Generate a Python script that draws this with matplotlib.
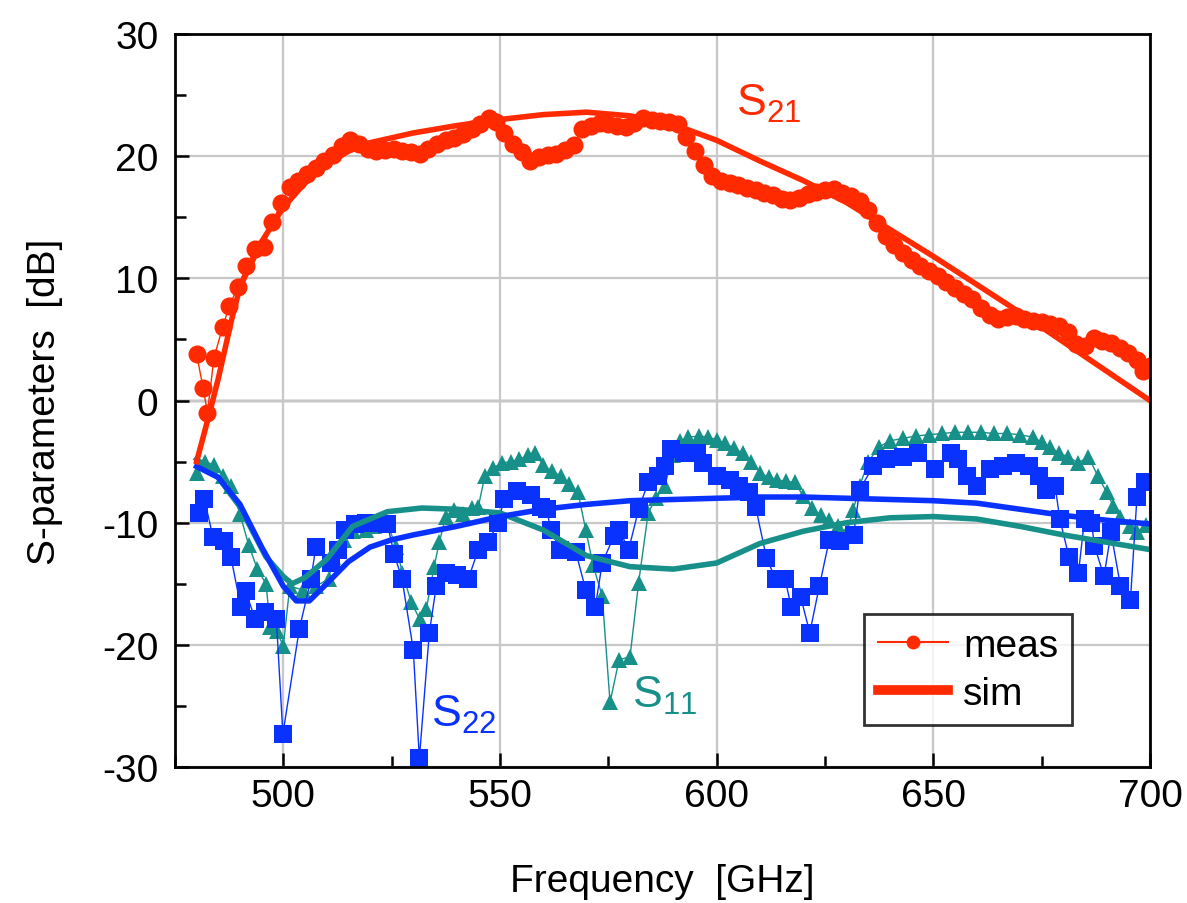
import numpy as np
import matplotlib
matplotlib.use("Agg")
import matplotlib.pyplot as plt
from matplotlib.lines import Line2D

plt.rcParams['font.family'] = ['Liberation Sans', 'DejaVu Sans']
plt.rcParams['mathtext.fontset'] = 'custom'
plt.rcParams['mathtext.rm'] = 'Liberation Sans'
plt.rcParams['mathtext.it'] = 'Liberation Sans'
plt.rcParams['axes.unicode_minus'] = False

RED = '#ff2a00'
BLUE = '#0a32ff'
TEAL = '#17908a'

# S21 measured
s21_meas_f = [480, 481.5, 482.5, 484, 486, 487.5, 489.5, 491.5, 493.5, 495.5, 497.5, 499.5,
              501.5, 503.5, 505.5, 507.5, 509.5, 511.5, 513.5, 515.5, 517.5, 519.5, 521.5,
              523.5, 525.5, 527.5, 529.5, 531.5, 533.5, 535.5, 537.5, 539.5, 541.5, 543.5,
              545.5, 547.5, 549, 551, 553, 555, 557, 559, 561, 563, 565, 567, 569, 571, 573,
              575, 577, 579, 581, 583, 585, 587, 589, 591, 593, 595, 597, 599, 601, 603, 605,
              607, 609, 611, 613, 615, 617, 619, 621, 623, 625, 627, 629, 631, 633, 635, 637,
              639, 641, 643, 645, 647, 649, 651, 653, 655, 657, 659, 661, 663, 665, 667, 669,
              671, 673, 675, 677, 679, 681, 683, 685, 687, 689, 691, 693, 695, 697, 698.5, 700]
s21_meas_db = [3.8, 1.0, -1.0, 3.5, 6.0, 7.7, 9.3, 11.0, 12.4, 12.6, 14.6, 16.2,
               17.5, 18.0, 18.5, 19.0, 19.6, 20.1, 20.8, 21.3, 21.0, 20.6, 20.4,
               20.5, 20.6, 20.4, 20.3, 20.2, 20.6, 21.0, 21.3, 21.5, 21.8, 22.2,
               22.6, 23.1, 22.8, 21.9, 21.0, 20.3, 19.6, 19.9, 20.1, 20.2, 20.5, 20.9, 22.2, 22.5, 22.7,
               22.6, 22.5, 22.4, 22.7, 23.1, 23.0, 22.9, 22.8, 22.6, 21.6, 20.4, 19.3, 18.4, 18.0, 17.8, 17.6,
               17.4, 17.2, 17.0, 16.8, 16.5, 16.4, 16.6, 16.9, 17.1, 17.2, 17.3, 17.0, 16.7, 16.3, 15.6, 14.5,
               13.5, 12.7, 12.1, 11.5, 11.0, 10.6, 10.2, 9.7, 9.2, 8.7, 8.3, 7.6, 7.0, 6.7, 6.8, 6.9,
               6.7, 6.5, 6.4, 6.3, 6.1, 5.6, 4.6, 4.5, 5.1, 4.9, 4.7, 4.3, 3.9, 3.3, 2.4, 2.8]

# S21 simulated
s21_sim_f = [480, 483, 485, 488, 490, 495, 500, 505, 510, 515, 520, 530, 540, 550, 560, 570,
             580, 590, 600, 610, 620, 630, 640, 650, 660, 670, 680, 690, 700]
s21_sim_db = [-5.0, -1.0, 1.8, 6.5, 9.3, 13.0, 15.8, 17.8, 19.3, 20.4, 21.1, 21.9, 22.5, 23.0,
              23.4, 23.6, 23.3, 22.6, 21.3, 19.6, 18.0, 16.2, 14.0, 11.8, 9.5, 7.2, 4.8, 2.4, 0.0]

# S11 measured
s11_meas_f = [480, 482, 484, 486, 488, 490, 492, 494, 496, 497, 498.5, 500, 501.5, 504.5, 507.5,
              510.5, 511.5, 514, 516, 519, 521, 524, 526, 527.5, 529.5, 531.5, 533, 534.8, 536,
              537.5, 539.5, 541.5, 543.5, 545, 546.5, 548.5, 550.5, 552.5, 554.5, 556.5, 558,
              560, 562, 564, 566, 568, 569.8, 571.5, 573.6, 575.4, 577.5, 580, 582, 584.2, 586,
              588, 590, 591.5, 593.5, 596, 598, 600, 602, 604, 606, 608, 610, 612, 614, 616, 618,
              620, 622, 624, 626, 628, 630, 631.5, 633, 635, 637.5, 640, 643, 646, 649, 652, 655,
              658, 661, 664, 667, 670, 673, 675, 677, 679, 681, 683.5, 685.8, 688, 690, 691.5,
              693.2, 695.5, 697, 699]
s11_meas_db = [-5.9, -5.0, -5.3, -6.2, -7.0, -9.3, -11.8, -13.8, -15.0, -18.5, -18.9, -20.1, -15.2, -15.5, -15.2,
               -14.6, -12.8, -11.4, -10.7, -10.6, -10.3, -10.0, -12.0, -14.1, -16.5, -17.9, -17.1, -13.6, -11.6,
               -9.5, -9.0, -9.3, -8.8, -8.7, -6.2, -5.5, -5.1, -5.0, -4.8, -4.5, -4.3,
               -5.3, -5.8, -6.2, -6.8, -7.5, -10.6, -13.5, -16.0, -24.7, -21.2, -21.0, -14.9, -9.2, -8.0,
               -7.0, -4.5, -3.3, -3.0, -2.9, -3.0, -3.2, -3.5, -3.9, -4.3, -5.0, -5.9, -6.3, -6.5, -6.6, -6.7,
               -7.8, -8.8, -9.4, -9.8, -10.3, -10.8, -9.0, -7.0, -5.0, -3.8, -3.3, -3.1, -2.9, -2.8, -2.7, -2.6,
               -2.6, -2.6, -2.7, -2.7, -2.8, -3.0, -3.4, -3.8, -4.3, -4.6, -5.1, -4.6, -6.2, -7.5, -8.6,
               -9.5, -10.3, -10.8, -10.2]

# S11 simulated
s11_sim_f = [480, 485, 490, 496, 500, 502, 505, 510, 516, 524, 532, 540, 550, 560, 570, 580,
             590, 600, 610, 620, 630, 640, 650, 660, 670, 680, 690, 700]
s11_sim_db = [-4.8, -6.3, -8.7, -12.8, -14.4, -15.0, -14.5, -13.0, -10.3, -9.1, -8.8, -8.9, -9.2,
              -10.6, -12.7, -13.6, -13.8, -13.3, -11.7, -10.7, -10.0, -9.6, -9.5, -9.7, -10.3,
              -11.0, -11.6, -12.2]

# S22 measured
s22_meas_f = [480.5, 481.8, 483.8, 486.3, 487.9, 490.2, 491.3, 493.5, 495.8, 498.4, 499.9, 503.7,
              506.4, 507.5, 511.1, 512.7, 514.3, 516.6, 519, 521, 524, 525.6, 527.4, 530, 531.4,
              533.7, 535.3, 537.5, 540, 542.7, 545, 547.3, 549.5, 551, 554, 557.2, 559.4, 560.8,
              561.7, 563.9, 567.5, 569.8, 572, 573.6, 576.3, 577.5, 579.7, 582, 584.2, 586.5, 588,
              589.4, 592.4, 595.5, 596.9, 600, 603, 605.2, 607.5, 609, 611.5, 613.6, 615.8, 617.2,
              619.4, 621.5, 623.7, 626, 628.5, 631.6, 633, 636.1, 639, 642.9, 646.5, 650.4, 654.2,
              655.6, 657.8, 660, 663.2, 666.2, 669.1, 672.2, 674.5, 675.9, 678.1, 679.2, 681.3,
              683.5, 684.9, 686.5, 687.2, 689.4, 691, 693.2, 695.5, 697, 698.9]
s22_meas_db = [-9.2, -8.1, -11.2, -11.5, -12.8, -16.9, -15.6, -17.9, -17.3, -17.9, -27.3, -18.7,
               -14.6, -12.0, -13.3, -12.2, -10.6, -10.1, -10.0, -10.0, -10.1, -12.6, -14.6, -20.4, -29.3,
               -19.0, -15.2, -14.1, -14.3, -14.6, -12.2, -11.6, -10.0, -8.1, -7.4, -7.7, -8.7, -8.9,
               -10.6, -12.2, -12.4, -15.5, -16.9, -13.3, -11.1, -10.6, -12.2, -8.9, -6.7, -6.2, -5.4,
               -4.0, -4.3, -4.3, -5.1, -6.2, -6.5, -7.0, -7.5, -8.7, -12.9, -14.6, -14.6, -16.9,
               -16.1, -19.0, -15.2, -11.4, -11.5, -11.0, -7.3, -5.4, -4.8, -4.6, -4.3, -5.6, -4.3,
               -4.8, -6.2, -7.0, -5.6, -5.4, -5.1, -5.4, -6.2, -7.3, -7.0, -9.7, -12.8,
               -14.1, -9.7, -10.0, -11.9, -14.4, -10.8, -15.2, -16.3, -7.9, -6.7]

# S22 simulated
s22_sim_f = [480, 485, 490, 495, 500, 503, 506, 510, 515, 520, 525, 530, 540, 550, 560, 570,
             580, 590, 600, 610, 620, 630, 640, 650, 660, 670, 680, 690, 700]
s22_sim_db = [-5.4, -6.3, -8.5, -12.0, -15.2, -16.4, -16.4, -15.0, -13.2, -12.0, -11.4, -11.0,
              -10.3, -9.5, -8.9, -8.5, -8.2, -8.1, -8.0, -7.9, -7.9, -8.0, -8.1, -8.2, -8.4,
              -8.9, -9.4, -9.8, -10.1]


fig = plt.figure(figsize=(11.87, 9.04), dpi=100)
ax = fig.add_axes([0.1474, 0.1504, 0.8214, 0.8109])

ax.set_xlim(480, 700)
ax.set_ylim(-30, 30)
ax.set_xticks([500, 550, 600, 650, 700])
ax.set_xticks(np.arange(475, 701, 25), minor=True)
ax.set_yticks(np.arange(-30, 31, 10))
ax.set_yticks(np.arange(-30, 31, 5), minor=True)
ax.grid(True, which='major', color='#c8c8c8', linewidth=1.6, zorder=0)
ax.axhline(0, color='black', linewidth=1.6, zorder=1)

# measured traces
ax.plot(s11_meas_f, s11_meas_db, color=TEAL, linewidth=1.0, marker='^', markersize=11,
        markeredgewidth=0, zorder=3)
ax.plot(s22_meas_f, s22_meas_db, color=BLUE, linewidth=1.0, marker='s', markersize=13,
        markeredgewidth=0, zorder=4)
ax.plot(s21_meas_f, s21_meas_db, color=RED, linewidth=1.0, marker='o', markersize=13,
        markeredgewidth=0, zorder=4)

# simulated traces
ax.plot(s11_sim_f, s11_sim_db, color=TEAL, linewidth=4, zorder=5)
ax.plot(s22_sim_f, s22_sim_db, color=BLUE, linewidth=4, zorder=5)
ax.plot(s21_sim_f, s21_sim_db, color=RED, linewidth=4, zorder=5)

ax.text(604.5, 23.4, r'$\mathregular{S_{21}}$', color=RED, fontsize=32)
ax.text(534.2, -26.6, r'$\mathregular{S_{22}}$', color=BLUE, fontsize=32)
ax.text(580.4, -25.1, r'$\mathregular{S_{11}}$', color=TEAL, fontsize=32)

for sp in ax.spines.values():
    sp.set_linewidth(2.0)
    sp.set_zorder(6)

ax.tick_params(which='both', direction='in', top=False, right=False, width=1.8,
               labelsize=28, pad=8)
ax.tick_params(axis='y', pad=12)
ax.tick_params(which='major', length=10)
ax.tick_params(which='minor', length=8)

ax.set_xlabel('Frequency  [GHz]', fontsize=28, labelpad=35)
ax.set_ylabel('S-parameters  [dB]', fontsize=28, labelpad=28)

handles = [
    Line2D([], [], color=RED, linewidth=1.5, marker='o', markersize=10, markeredgewidth=0),
    Line2D([], [], color=RED, linewidth=7),
]
leg = ax.legend(handles, ['meas', 'sim'], loc='lower right', bbox_to_anchor=(0.92, 0.057),
                borderaxespad=0, fontsize=28, frameon=True, fancybox=False, handlelength=1.8,
                borderpad=0.35, labelspacing=0.3, handletextpad=0.4)
leg.get_frame().set_edgecolor('black')
leg.get_frame().set_linewidth(2.0)
leg.set_zorder(7)

fig.savefig('out.png', dpi=100)
